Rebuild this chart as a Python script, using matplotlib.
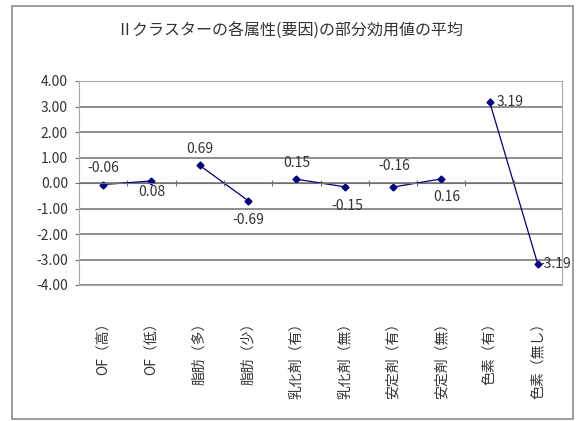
"""Line chart of average part-worth utilities per attribute level (cluster II)."""

import matplotlib.pyplot as plt
from matplotlib.patches import Rectangle

plt.rcParams["font.family"] = ["Noto Sans CJK JP", "DejaVu Sans"]

TITLE = "Ⅱクラスターの各属性(要因)の部分効用値の平均"
LEVELS = [
    "OF（高）", "OF（低）",
    "脂肪（多）", "脂肪（少）",
    "乳化剤（有）", "乳化剤（無）",
    "安定剤（有）", "安定剤（無）",
    "色素（有）", "色素（無し）",
]
UTILITIES = [-0.06, 0.08, 0.69, -0.69, 0.15, -0.15, -0.16, 0.16, 3.19, -3.19]
# each attribute is drawn as its own two-point segment
PAIRS = [(0, 1), (2, 3), (4, 5), (6, 7), (8, 9)]
# where each data label goes: offset in points, alignment
LABEL_POS = [
    ((0, 12), "center"), ((0, -8), "center"),
    ((0, 12), "center"), ((0, -14), "center"),
    ((0, 12), "center"), ((2, -14), "center"),
    ((1, 15), "center"), ((4, -13), "center"),
    ((5, 0), "left"), ((1, 0), "left"),
]

NAVY = "#000080"
GRID = "#707070"
TEXT = "#333333"

fig = plt.figure(figsize=(5.79, 4.21), dpi=100)
fig.patches.append(Rectangle((12 / 579, 2 / 421), 561 / 579, 413 / 421,
                             transform=fig.transFigure, fill=False,
                             edgecolor="#8c8c8c", linewidth=1.2))

ax = fig.add_axes([79 / 579, 136 / 421, 483 / 579, 204 / 421])
x = list(range(len(LEVELS)))

for a, b in PAIRS:
    ax.plot([x[a], x[b]], [UTILITIES[a], UTILITIES[b]], color=NAVY,
            linewidth=0.9, marker="D", markersize=3.5)

for i, val in enumerate(UTILITIES):
    (dx, dy), ha = LABEL_POS[i]
    ax.annotate(f"{val:.2f}", (x[i], val), xytext=(dx, dy),
                textcoords="offset points", ha=ha, va="center",
                fontsize=10, color=TEXT, annotation_clip=False)

ax.set_xlim(-0.5, len(LEVELS) - 0.5)
ax.set_ylim(-4, 4)
ax.set_yticks(range(-4, 5))
ax.set_yticklabels([f"{v:.2f}" for v in range(-4, 5)])
ax.yaxis.grid(True, color=GRID, linewidth=1.1)
ax.set_axisbelow(True)
ax.tick_params(axis="y", labelsize=10, labelcolor=TEXT, length=3,
               color=GRID, pad=5)

# category axis runs through zero with ticks between levels
ax.spines["bottom"].set_position(("data", 0))
ax.spines["bottom"].set_color(GRID)
ax.set_xticks([i + 0.5 for i in x[:-1]])
ax.set_xticklabels([])
ax.tick_params(axis="x", direction="inout", length=4, color=GRID)
for side in ("top", "right", "left"):
    ax.spines[side].set_color("#a8a8a8")

# level names below the plot area
sec = ax.secondary_xaxis(0)
sec.set_xticks(x)
sec.set_xticklabels(LEVELS, rotation=90, va="top", ha="center",
                    fontsize=10, color=TEXT)
sec.tick_params(length=0, pad=22)
sec.spines["bottom"].set_color("#a8a8a8")

fig.text(290 / 579, 1 - 30 / 421, TITLE, ha="center", va="center",
         fontsize=11.5, color=TEXT)

fig.savefig("out.png", dpi=100)
